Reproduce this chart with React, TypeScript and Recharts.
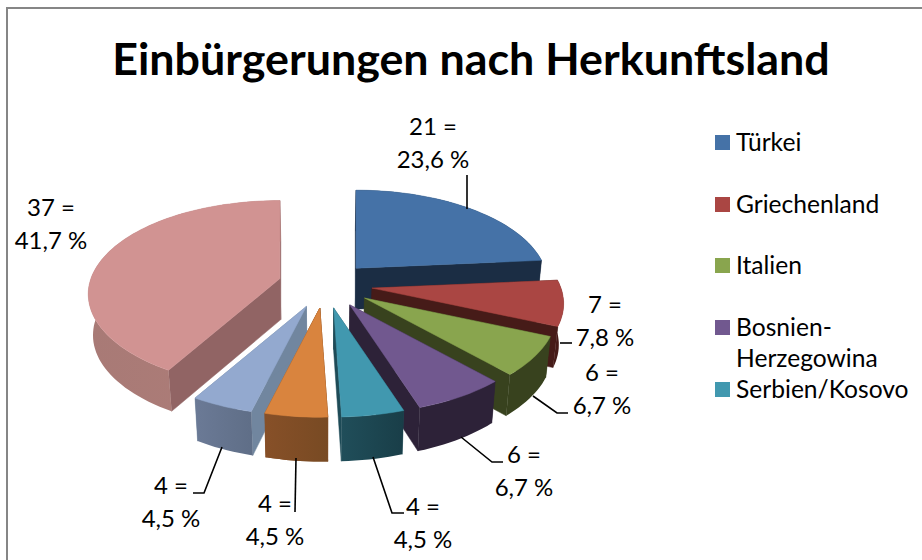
import { Legend, Pie, PieChart } from "recharts";

const countries = ["Türkei", "Griechenland", "Italien", "Bosnien-Herzegowina", "Serbien/Kosovo", "Mazedonien", "Kroatien", "Sonstige"];
const counts = [21, 7, 6, 6, 4, 4, 4, 37];
const percentLabels = ["23,6 %", "7,8 %", "6,7 %", "6,7 %", "4,5 %", "4,5 %", "4,5 %", "41,7 %"];
const topColors = ["#4572a7", "#aa4643", "#89a54e", "#71588f", "#4198af", "#d9843e", "#93a9cf", "#d19392"];
const sideColors = ["#1b2d44", "#461b18", "#38421e", "#2d2238", "#1e4b57", "#875028", "#71869f", "#916464"];
const wallFrom = ["#1b2d44", "#461b18", "#38421e", "#2d2238", "#204e5a", "#875028", "#6b7a96", "#a87a76"];
const wallTo = ["#1b2d44", "#461b18", "#38421e", "#2d2238", "#193e48", "#784a23", "#5f6e87", "#af7d78"];
const legendCount = 5;
const frontSlot = 5;

const rows = countries.map((name, i) => ({ name, value: counts[i], fill: topColors[i], slot: i }));

const FONT = "Lato, Carlito, sans-serif";
const WIDTH = 922;
const HEIGHT = 560;
const SQUASH = 91 / 189;
const PERSPECTIVE = 0.166;
const EXPLODE = 0.25;

function project(deg: number, r: number, radius: number) {
  const rad = (deg * Math.PI) / 180;
  const x = r * Math.sin(rad);
  const y = -r * Math.cos(rad);
  const s = 1 / (1 - PERSPECTIVE * y);
  return [x * radius * s, y * radius * SQUASH * s];
}

function Slice3D(props: any) {
  const { cx, cy, outerRadius, startAngle, endAngle, payload } = props;
  const slot = payload?.slot ?? props.slot ?? 0;
  const from = 90 - startAngle;
  const to = 90 - endAngle;
  const [ox, oy] = project((from + to) / 2, EXPLODE, outerRadius);
  const ax = cx + ox;
  const ay = cy + oy;

  const arc: number[][] = [];
  const steps = Math.max(2, Math.ceil((to - from) / 2));
  for (let i = 0; i <= steps; i++) {
    const [dx, dy] = project(from + ((to - from) * i) / steps, 1, outerRadius);
    arc.push([ax + dx, ay + dy]);
  }
  // walls get a bit taller towards the viewer
  const drop = ([x, y]: number[]) => [x + (cx - x) * 0.02, y + 41 + Math.max(0, y - 370) * 0.07];
  const poly = (pts: number[][]) => pts.map((p) => p[0].toFixed(1) + "," + p[1].toFixed(1)).join(" ");
  const apex = [ax, ay];
  const first = arc[0];
  const last = arc[arc.length - 1];
  const side = sideColors[slot];
  const wall = `wall-${slot}`;

  return (
    <g>
      <defs>
        <linearGradient id={wall} x1="0" y1="0" x2="1" y2="0">
          <stop offset="0%" stopColor={wallFrom[slot]} />
          <stop offset="100%" stopColor={wallTo[slot]} />
        </linearGradient>
      </defs>
      <polygon points={poly([apex, first, drop(first), drop(apex)])} fill={side} stroke={side} strokeWidth={0.5} />
      <polygon points={poly([apex, last, drop(last), drop(apex)])} fill={side} stroke={side} strokeWidth={0.5} />
      <polygon points={poly([...arc, ...arc.map(drop).reverse()])} fill={`url(#${wall})`} />
      <polygon points={poly([apex, ...arc])} fill={topColors[slot]} stroke={topColors[slot]} strokeWidth={0.5} />
    </g>
  );
}

// the orange slice sits in front of its neighbour's inner wall, so it gets painted again on top
function FrontSlice(props: any) {
  const slot = props.payload?.slot ?? props.slot;
  return slot === frontSlot ? <Slice3D {...props} /> : <g />;
}

// placement of the two text lines and the leader of each label
const labelSpots = [
  { x: 433, y: 135, line: [[467, 175], [467, 209]] },
  { x: 605, y: 313, line: [[560, 343], [572, 343]] },
  { x: 602, y: 381, line: [[533, 396], [557, 413], [568, 413]] },
  { x: 524, y: 463, line: [[461, 437], [492, 462], [503, 462]] },
  { x: 423, y: 515, line: [[373, 457], [392, 513], [404, 513]] },
  { x: 275, y: 512, line: [[296, 458], [295, 512]] },
  { x: 171, y: 494, line: [[222, 447], [204, 493], [193, 493]] },
  { x: 51, y: 216, line: [] as number[][] },
];

function SliceLabel(props: any) {
  const slot = props.payload?.slot ?? props.slot ?? props.index;
  const spot = labelSpots[slot];
  return (
    <g>
      {spot.line.length > 0 && (
        <polyline points={spot.line.map((p) => p.join(",")).join(" ")} fill="none" stroke="#000" strokeWidth={1.6} />
      )}
      <text x={spot.x} y={spot.y} textAnchor="middle" fontFamily={FONT} fontSize={24} fill="#000">
        {counts[slot]} =
      </text>
      <text x={spot.x} y={spot.y + 33} textAnchor="middle" fontFamily={FONT} fontSize={24} fill="#000">
        {percentLabels[slot]}
      </text>
    </g>
  );
}

function LegendBox() {
  return (
    <div style={{ position: "relative", width: 207, height: 290, fontFamily: FONT, fontSize: 24.6, color: "#000" }}>
      {countries.slice(0, legendCount).map((name, i) => (
        <div key={name} style={{ position: "absolute", top: i * 61.7, left: 0, display: "flex", lineHeight: "31px" }}>
          <span style={{ width: 15, height: 15, marginTop: 9, marginRight: 6, background: topColors[i], flexShrink: 0 }} />
          <span style={{ width: 186 }}>{name}</span>
        </div>
      ))}
    </div>
  );
}

export default function App() {
  return (
    <div style={{ position: "absolute", left: 0, top: 0, width: WIDTH, height: HEIGHT, overflow: "hidden", background: "#fff" }}>
      <div style={{ position: "absolute", left: 6, top: 7, right: 0, bottom: 0, borderLeft: "2px solid #868686", borderTop: "2px solid #868686" }} />
      <PieChart width={WIDTH} height={HEIGHT} margin={{ top: 0, right: 0, bottom: 0, left: 0 }} style={{ position: "absolute", left: 0, top: 0 }}>
        <text x={471} y={75} textAnchor="middle" fontFamily={FONT} fontSize={44.8} fontWeight={700} fill="#000">
          Einbürgerungen nach Herkunftsland
        </text>
        <Pie
          data={rows}
          dataKey="value"
          nameKey="name"
          cx={325}
          cy={284.5}
          innerRadius={0}
          outerRadius={189}
          startAngle={90}
          endAngle={-270}
          stroke="none"
          shape={Slice3D}
          label={SliceLabel}
          labelLine={false}
          isAnimationActive={false}
        />
        <Pie
          data={rows}
          dataKey="value"
          nameKey="name"
          cx={325}
          cy={284.5}
          innerRadius={0}
          outerRadius={189}
          startAngle={90}
          endAngle={-270}
          stroke="none"
          shape={FrontSlice}
          legendType="none"
          isAnimationActive={false}
        />
        <Legend content={LegendBox} wrapperStyle={{ left: 715, top: 126, width: 207 }} itemSorter={null} />
      </PieChart>
    </div>
  );
}
